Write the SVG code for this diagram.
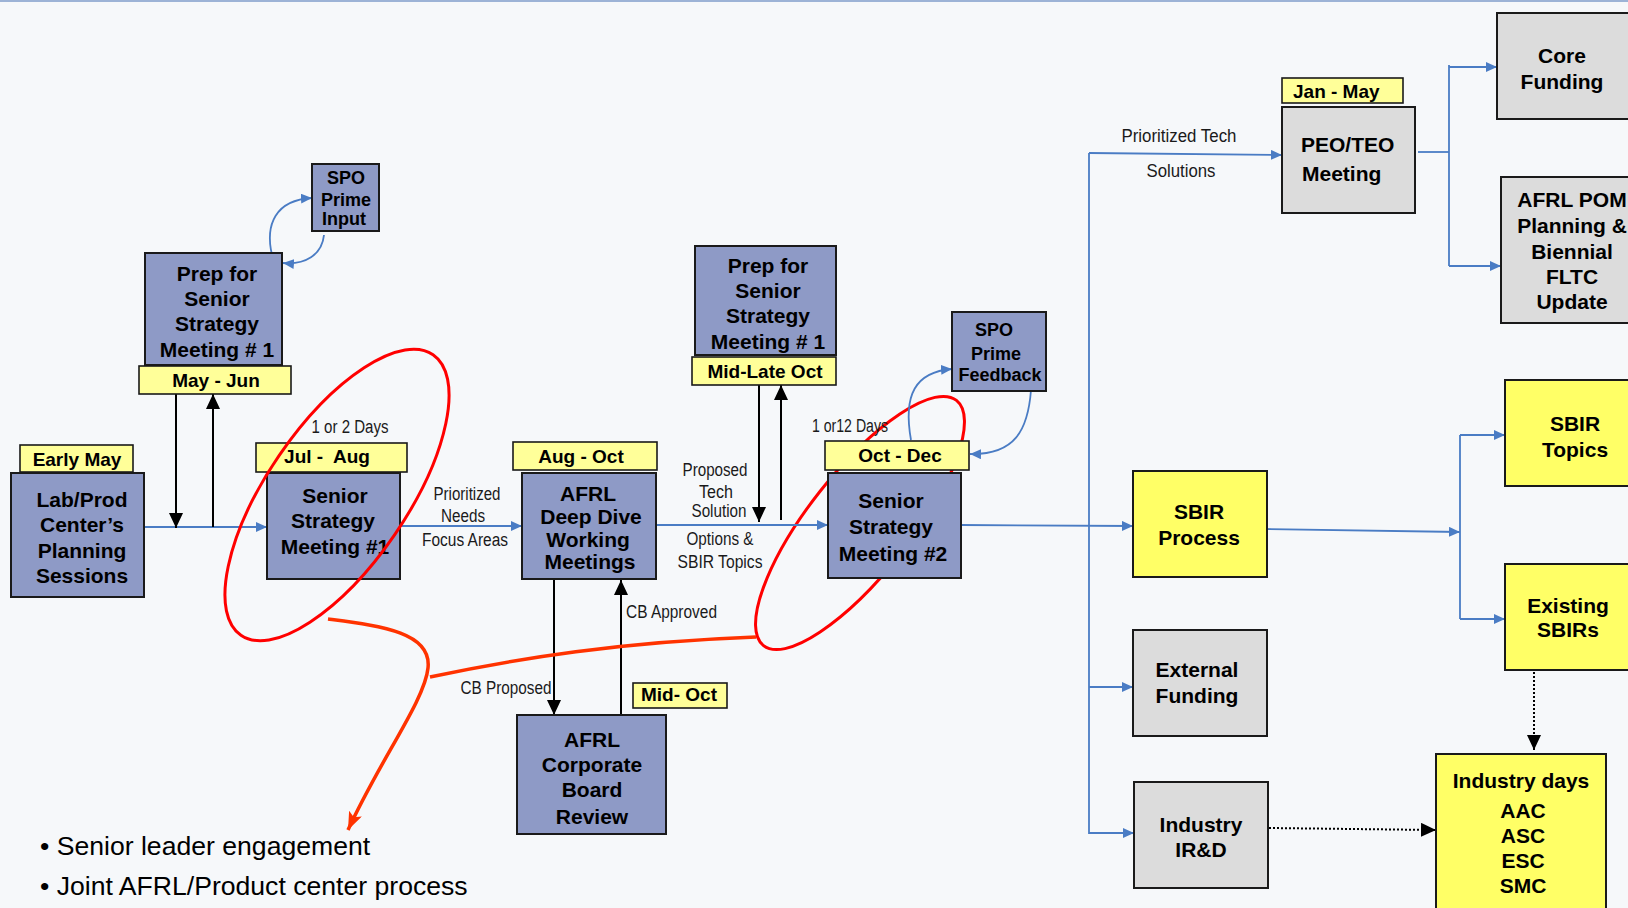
<svg xmlns="http://www.w3.org/2000/svg" width="1628" height="908" viewBox="0 0 1628 908">
<defs>
<marker id="ab" markerUnits="userSpaceOnUse" markerWidth="12" markerHeight="10" refX="11" refY="5" orient="auto"><path d="M0,0 L11,5 L0,10 z" fill="#4a7cc4"/></marker>
<marker id="ak" markerUnits="userSpaceOnUse" markerWidth="16" markerHeight="16" refX="15" refY="7" orient="auto"><path d="M0,0 L15,7 L0,14 z" fill="#000"/></marker>
<marker id="ao" markerUnits="userSpaceOnUse" markerWidth="20" markerHeight="16" refX="18" refY="7" orient="auto"><path d="M0,0 L18,7 L0,14 L4,7 z" fill="#ff3300"/></marker>
</defs>
<style>
.nb{fill:#8e9ac6;stroke:#1a1a1a;stroke-width:2}
.ny{fill:#ffff66;stroke:#1a1a1a;stroke-width:2}
.ng{fill:#dcdcdc;stroke:#1a1a1a;stroke-width:2}
.lb{fill:#ffff99;stroke:#1a1a1a;stroke-width:1.6}
.t{font-family:"Liberation Sans",Arial,sans-serif;font-weight:bold;font-size:21px;fill:#000;text-anchor:middle}
.ts{font-family:"Liberation Sans",Arial,sans-serif;font-weight:bold;font-size:18px;fill:#000;text-anchor:middle}
.tl{font-family:"Liberation Sans",Arial,sans-serif;font-weight:bold;font-size:19px;fill:#000;text-anchor:middle}
.c{font-family:"Liberation Sans Narrow","Liberation Sans",Arial,sans-serif;font-size:18px;fill:#1a1a1a;text-anchor:middle}
.bl{fill:none;stroke:#4a7cc4;stroke-width:1.8}
.bk{fill:none;stroke:#000;stroke-width:2}
.dt{fill:none;stroke:#000;stroke-width:2;stroke-dasharray:2 2}
.red{fill:none;stroke:#ff0000;stroke-width:3}
.or{fill:none;stroke:#ff3300;stroke-width:3.5}
.bul{font-family:"Liberation Sans",Arial,sans-serif;font-size:26.6px;fill:#000}
</style>
<rect x="0" y="0" width="1628" height="908" fill="#f6f8fa"/>
<line x1="0" y1="1" x2="1628" y2="1" stroke="#9db3d6" stroke-width="2"/>

<ellipse id="ring2" class="red" cx="860" cy="523" rx="156" ry="51" transform="rotate(-51.8 860 523)"/>

<g id="connectors">
<line class="bl" x1="144" y1="527" x2="267" y2="527" marker-end="url(#ab)"/>
<line class="bl" x1="400" y1="526" x2="522" y2="526" marker-end="url(#ab)"/>
<line class="bl" x1="656" y1="525" x2="828" y2="525" marker-end="url(#ab)"/>
<line class="bl" x1="961" y1="525" x2="1133" y2="526" marker-end="url(#ab)"/>
<line class="bl" x1="1089" y1="153" x2="1089" y2="834"/>
<line class="bl" x1="1089" y1="153" x2="1282" y2="155" marker-end="url(#ab)"/>
<line class="bl" x1="1089" y1="687" x2="1133" y2="687" marker-end="url(#ab)"/>
<line class="bl" x1="1089" y1="833" x2="1134" y2="833" marker-end="url(#ab)"/>
<line class="bl" x1="1418" y1="152" x2="1449" y2="152"/>
<line class="bl" x1="1449" y1="65" x2="1449" y2="266"/>
<line class="bl" x1="1449" y1="67" x2="1497" y2="67" marker-end="url(#ab)"/>
<line class="bl" x1="1449" y1="266" x2="1501" y2="266" marker-end="url(#ab)"/>
<line class="bl" x1="1263" y1="529" x2="1460" y2="532" marker-end="url(#ab)"/>
<line class="bl" x1="1460" y1="435" x2="1460" y2="619"/>
<line class="bl" x1="1460" y1="435" x2="1505" y2="435" marker-end="url(#ab)"/>
<line class="bl" x1="1460" y1="619" x2="1505" y2="619" marker-end="url(#ab)"/>
<path class="bl" d="M272,255 C265,225 275,200 312,198" marker-end="url(#ab)"/>
<path class="bl" d="M324,235 C322,255 305,265 283,263" marker-end="url(#ab)"/>
<path class="bl" d="M911,440 C903,395 915,372 952,369" marker-end="url(#ab)"/>
<path class="bl" d="M1031,390 C1028,430 1015,455 970,454" marker-end="url(#ab)"/>
<line class="bk" x1="176" y1="394" x2="176" y2="528" marker-end="url(#ak)"/>
<line class="bk" x1="213" y1="527" x2="213" y2="394" marker-end="url(#ak)"/>
<line class="bk" x1="759" y1="385" x2="759" y2="522" marker-end="url(#ak)"/>
<line class="bk" x1="781" y1="520" x2="781" y2="385" marker-end="url(#ak)"/>
<line class="bk" x1="554" y1="579" x2="554" y2="715" marker-end="url(#ak)"/>
<line class="bk" x1="621" y1="715" x2="621" y2="580" marker-end="url(#ak)"/>
<line class="dt" x1="1534" y1="672" x2="1534" y2="750" marker-end="url(#ak)"/>
<line class="dt" x1="1269" y1="828" x2="1436" y2="830" marker-end="url(#ak)"/>
</g>

<g id="early-may"><rect class="lb" x="20" y="445" width="113" height="27"/><text class="tl" x="77" y="466">Early May</text></g>
<g id="lab-prod"><rect class="nb" x="11" y="473" width="133" height="124"/>
<text class="t" x="82" y="507">Lab/Prod</text><text class="t" x="82" y="532">Center’s</text><text class="t" x="82" y="558">Planning</text><text class="t" x="82" y="583">Sessions</text></g>

<g id="prep1"><rect class="nb" x="145" y="253" width="137" height="112"/>
<text class="t" x="217" y="281">Prep for</text><text class="t" x="217" y="306">Senior</text><text class="t" x="217" y="331">Strategy</text><text class="t" x="217" y="357">Meeting # 1</text></g>
<g id="may-jun"><rect class="lb" x="139" y="366" width="152" height="28"/><text class="tl" x="216" y="387">May - Jun</text></g>
<g id="spo-input"><rect class="nb" x="312" y="164" width="67" height="67"/>
<text class="ts" x="346" y="184">SPO</text><text class="ts" x="346" y="206">Prime</text><text class="ts" x="344" y="225">Input</text></g>

<g id="jul-aug"><rect class="lb" x="256" y="443" width="151" height="29"/><text class="tl" x="327" y="463" xml:space="preserve">Jul -  Aug</text></g>
<g id="ssm1"><rect class="nb" x="267" y="473" width="133" height="106"/>
<text class="t" x="335" y="503">Senior</text><text class="t" x="333" y="528">Strategy</text><text class="t" x="335" y="554">Meeting #1</text></g>

<g id="aug-oct"><rect class="lb" x="513" y="442" width="144" height="28"/><text class="tl" x="581" y="463">Aug - Oct</text></g>
<g id="deep-dive"><rect class="nb" x="522" y="473" width="134" height="106"/>
<text class="t" x="588" y="501">AFRL</text><text class="t" x="591" y="524">Deep Dive</text><text class="t" x="588" y="547">Working</text><text class="t" x="590" y="569">Meetings</text></g>

<g id="prep2"><rect class="nb" x="695" y="246" width="141" height="109"/>
<text class="t" x="768" y="273">Prep for</text><text class="t" x="768" y="298">Senior</text><text class="t" x="768" y="323">Strategy</text><text class="t" x="768" y="349">Meeting # 1</text></g>
<g id="mid-late-oct"><rect class="lb" x="692" y="357" width="144" height="28"/><text class="tl" x="765" y="378">Mid-Late Oct</text></g>

<g id="oct-dec"><rect class="lb" x="825" y="441" width="144" height="29"/><text class="tl" x="900" y="462">Oct - Dec</text></g>
<g id="ssm2"><rect class="nb" x="828" y="473" width="133" height="105"/>
<text class="t" x="891" y="508">Senior</text><text class="t" x="891" y="534">Strategy</text><text class="t" x="893" y="561">Meeting #2</text></g>
<g id="spo-feedback"><rect class="nb" x="952" y="312" width="94" height="79"/>
<text class="ts" x="994" y="336">SPO</text><text class="ts" x="996" y="360">Prime</text><text class="ts" x="1000" y="381">Feedback</text></g>

<g id="afrl-cb"><rect class="nb" x="517" y="715" width="149" height="119"/>
<text class="t" x="592" y="747">AFRL</text><text class="t" x="592" y="772">Corporate</text><text class="t" x="592" y="797">Board</text><text class="t" x="592" y="824">Review</text></g>
<g id="mid-oct"><rect class="lb" x="633" y="683" width="94" height="25"/><text class="tl" x="679" y="701">Mid- Oct</text></g>

<g id="sbir-process"><rect class="ny" x="1133" y="471" width="134" height="106"/>
<text class="t" x="1199" y="519">SBIR</text><text class="t" x="1199" y="545">Process</text></g>
<g id="external-funding"><rect class="ng" x="1133" y="630" width="134" height="106"/>
<text class="t" x="1197" y="677">External</text><text class="t" x="1197" y="703">Funding</text></g>
<g id="industry-ird"><rect class="ng" x="1134" y="782" width="134" height="106"/>
<text class="t" x="1201" y="832">Industry</text><text class="t" x="1201" y="857">IR&amp;D</text></g>

<g id="jan-may"><rect class="lb" x="1282" y="78" width="121" height="25"/><text class="tl" x="1293" y="98" style="text-anchor:start">Jan - May</text></g>
<g id="peo-teo"><rect class="ng" x="1282" y="107" width="133" height="106"/>
<text class="t" x="1301" y="152" style="text-anchor:start">PEO/TEO</text><text class="t" x="1302" y="181" style="text-anchor:start">Meeting</text></g>
<g id="core-funding"><rect class="ng" x="1497" y="13" width="145" height="106"/>
<text class="t" x="1562" y="63">Core</text><text class="t" x="1562" y="89">Funding</text></g>
<g id="afrl-pom"><rect class="ng" x="1501" y="177" width="141" height="146"/>
<text class="t" x="1572" y="207">AFRL POM</text><text class="t" x="1572" y="233">Planning &amp;</text><text class="t" x="1572" y="259">Biennial</text><text class="t" x="1572" y="284">FLTC</text><text class="t" x="1572" y="309">Update</text></g>
<g id="sbir-topics"><rect class="ny" x="1505" y="380" width="137" height="106"/>
<text class="t" x="1575" y="431">SBIR</text><text class="t" x="1575" y="457">Topics</text></g>
<g id="existing-sbirs"><rect class="ny" x="1505" y="564" width="137" height="106"/>
<text class="t" x="1568" y="613">Existing</text><text class="t" x="1568" y="637">SBIRs</text></g>
<g id="industry-days"><rect class="ny" x="1436" y="754" width="170" height="170"/>
<text class="t" x="1521" y="788">Industry days</text><text class="t" x="1523" y="818">AAC</text><text class="t" x="1523" y="843">ASC</text><text class="t" x="1523" y="868">ESC</text><text class="t" x="1523" y="893">SMC</text></g>

<g id="labels">
<text class="c" x="350" y="433" textLength="77" lengthAdjust="spacingAndGlyphs">1 or 2 Days</text>
<text class="c" x="467" y="500" textLength="67" lengthAdjust="spacingAndGlyphs">Prioritized</text>
<text class="c" x="463" y="522" textLength="44" lengthAdjust="spacingAndGlyphs">Needs</text>
<text class="c" x="465" y="546" textLength="86" lengthAdjust="spacingAndGlyphs">Focus Areas</text>
<text class="c" x="715" y="476" textLength="65" lengthAdjust="spacingAndGlyphs">Proposed</text>
<text class="c" x="716" y="498" textLength="34" lengthAdjust="spacingAndGlyphs">Tech</text>
<text class="c" x="719" y="517" textLength="55" lengthAdjust="spacingAndGlyphs">Solution</text>
<text class="c" x="720" y="545" textLength="67" lengthAdjust="spacingAndGlyphs">Options &amp;</text>
<text class="c" x="720" y="568" textLength="85" lengthAdjust="spacingAndGlyphs">SBIR Topics</text>
<text class="c" x="850" y="432" textLength="76" lengthAdjust="spacingAndGlyphs">1 or12 Days</text>
<text class="c" x="1179" y="142" textLength="115" lengthAdjust="spacingAndGlyphs">Prioritized Tech</text>
<text class="c" x="1181" y="177" textLength="69" lengthAdjust="spacingAndGlyphs">Solutions</text>
<text class="c" x="506" y="694" textLength="91" lengthAdjust="spacingAndGlyphs">CB Proposed</text>
<text class="c" x="626" y="618" style="text-anchor:start" textLength="91" lengthAdjust="spacingAndGlyphs">CB Approved</text>
</g>

<ellipse id="ring1" class="red" cx="337" cy="495" rx="170" ry="70" transform="rotate(-55.6 337 495)"/>
<g id="highlight-connector">
<path class="or" d="M328,619 C380,626 432,632 428,668 C425,700 380,760 348,830" marker-end="url(#ao)"/>
<path class="or" d="M430,677 C520,658 620,642 756,637"/>
</g>

<text class="bul" x="40" y="855">• Senior leader engagement</text>
<text class="bul" x="40" y="895">• Joint AFRL/Product center process</text>
</svg>
